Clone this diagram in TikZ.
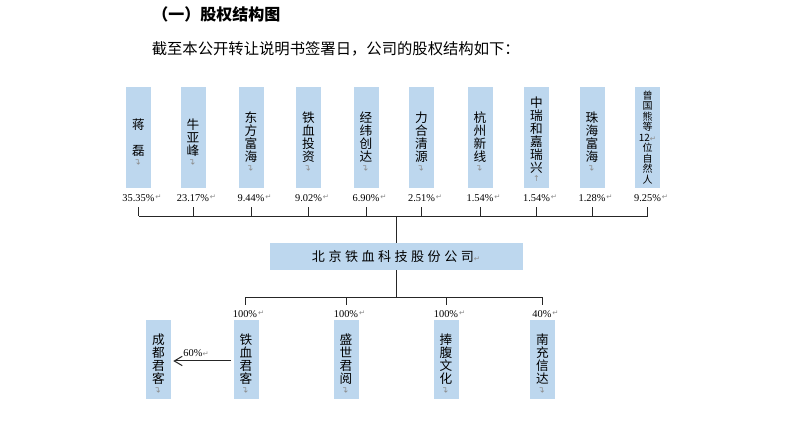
\documentclass[tikz,border=0pt]{standalone}
\usepackage{fontspec}
\usepackage{graphicx}
\setmainfont{Noto Sans CJK SC}
\newfontfamily\boxfont{Noto Sans CJK SC}
\newfontfamily\dvfont{DejaVu Sans}
\newfontfamily\pctfont{Liberation Serif}
\usetikzlibrary{arrows.meta}
\definecolor{boxblue}{HTML}{BDD7EE}
\definecolor{markgray}{HTML}{8C8C8C}
\definecolor{linegray}{HTML}{262626}
\newcommand\hmark{{\dvfont\fontsize{5.5}{5.5}\selectfont\color{markgray}↵}}
\newcommand\vmark{{\dvfont\fontsize{6.5}{6.5}\selectfont\color{markgray}\rotatebox{90}{↵}}}
\newcommand\upmark{{\dvfont\fontsize{6}{6}\selectfont\color{markgray}↑}}
\newcommand\lsp{\hspace{2.6pt}}
\begin{document}
\begin{tikzpicture}[x=0.75pt,y=-0.75pt,
  vbox/.style={draw=none,fill=boxblue,minimum width=18.75pt,minimum height=75.75pt,inner sep=0pt},
  sbox/.style={vbox,minimum height=59.25pt},
  vtext/.style={align=center,inner sep=0pt,font=\boxfont\fontsize{9.5}{9.75}\selectfont},
  ttext/.style={align=center,inner sep=0pt,font=\boxfont\fontsize{7.5}{7.9}\selectfont},
  mk/.style={inner sep=0pt,anchor=north},
  pct/.style={inner xsep=0pt,inner ysep=4pt,font=\pctfont\fontsize{7.8}{9}\selectfont,
    label={[inner sep=0pt,xshift=0.3pt,yshift=0.8pt]right:\hmark}},
  conn/.style={draw=linegray,line width=0.75pt},
  mainbox/.style={fill=boxblue,minimum width=189.75pt,minimum height=20.25pt,inner sep=0pt,
    font=\boxfont\fontsize{9.8}{10}\selectfont}
]
\fill[white] (0,0) rectangle (790,422);
\useasboundingbox (0,0) rectangle (790,422);

% heading and intro
\node[anchor=west,inner sep=0pt,font=\bfseries\fontsize{12}{14}\selectfont] (title) at (152,14) {（一）股权结构图};
\node[anchor=west,inner sep=0pt,font=\fontsize{11.5}{14}\selectfont] (intro) at (151.5,48.5) {截至本公开转让说明书签署日，公司的股权结构如下：};

% shareholders
\node[vbox] (b1) at (138.5,137.5) {};
\node[vtext] (t1) at (b1) {蒋\\\mbox{}\\磊};
\node[mk] (m1) at ([yshift=-1pt]t1.south) {\vmark};
\node[vbox] (b2) at (193,137.5) {};
\node[vtext] (t2) at (b2) {牛\\亚\\峰};
\node[mk] (m2) at ([yshift=-1pt]t2.south) {\vmark};
\node[vbox] (b3) at (251,137.5) {};
\node[vtext] (t3) at (b3) {东\\方\\富\\海};
\node[mk] (m3) at ([yshift=-1pt]t3.south) {\vmark};
\node[vbox] (b4) at (308.5,137.5) {};
\node[vtext] (t4) at (b4) {铁\\血\\投\\资};
\node[mk] (m4) at ([yshift=-1pt]t4.south) {\vmark};
\node[vbox] (b5) at (366,137.5) {};
\node[vtext] (t5) at (b5) {经\\纬\\创\\达};
\node[mk] (m5) at ([yshift=-1pt]t5.south) {\vmark};
\node[vbox] (b6) at (421.5,137.5) {};
\node[vtext] (t6) at (b6) {力\\合\\清\\源};
\node[mk] (m6) at ([yshift=-1pt]t6.south) {\vmark};
\node[vbox] (b7) at (480,137.5) {};
\node[vtext] (t7) at (b7) {杭\\州\\新\\线};
\node[mk] (m7) at ([yshift=-1pt]t7.south) {\vmark};
\node[vbox] (b8) at (536.5,137.5) {};
\node[vtext] (t8) at (536.5,135) {中\\瑞\\和\\嘉\\瑞\\兴};
\node[mk] (m8) at ([yshift=-1pt]t8.south) {\upmark};
\node[vbox] (b9) at (592,137.5) {};
\node[vtext] (t9) at (b9) {珠\\海\\富\\海};
\node[mk] (m9) at ([yshift=-1pt]t9.south) {\vmark};
\node[vbox] (b10) at (647.5,137.5) {};
\node[ttext] (t10) at (b10) {曾\\国\\熊\\等\\12{\hmark}\\位\\自\\然\\人};

% percentages
\node[pct] (p1) at (138.5,198) {35.35\%};
\node[pct] (p2) at (193,198) {23.17\%};
\node[pct] (p3) at (251,198) {9.44\%};
\node[pct] (p4) at (308.5,198) {9.02\%};
\node[pct] (p5) at (366,198) {6.90\%};
\node[pct] (p6) at (421.5,198) {2.51\%};
\node[pct] (p7) at (480,198) {1.54\%};
\node[pct] (p8) at (536.5,198) {1.54\%};
\node[pct] (p9) at (592,198) {1.28\%};
\node[pct] (p10) at (647.5,198) {9.25\%};

% company
\node[mainbox] (main) at (396,256.5) {北\lsp 京\lsp 铁\lsp 血\lsp 科\lsp 技\lsp 股\lsp 份\lsp 公\lsp 司\hmark};

\coordinate (jt) at (396,216);
\foreach \i in {1,...,10} {\draw[conn] (p\i.south) -- (p\i.south |- jt);}
\draw[conn] (p1.south |- jt) -- (p10.south |- jt);
\draw[conn] (jt) -- (main.north);

% subsidiaries
\node[sbox] (c0) at (158.5,359.5) {};
\node[vtext] (u0) at (c0) {成\\都\\君\\客};
\node[mk] (n0) at ([yshift=-1pt]u0.south) {\vmark};
\node[sbox] (c1) at (246,359.5) {};
\node[vtext] (u1) at (c1) {铁\\血\\君\\客};
\node[mk] (n1) at ([yshift=-1pt]u1.south) {\vmark};
\node[sbox] (c2) at (346,359.5) {};
\node[vtext] (u2) at (c2) {盛\\世\\君\\阅};
\node[mk] (n2) at ([yshift=-1pt]u2.south) {\vmark};
\node[sbox] (c3) at (446,359.5) {};
\node[vtext] (u3) at (c3) {捧\\腹\\文\\化};
\node[mk] (n3) at ([yshift=-1pt]u3.south) {\vmark};
\node[sbox] (c4) at (542.5,359.5) {};
\node[vtext] (u4) at (c4) {南\\充\\信\\达};
\node[mk] (n4) at ([yshift=-1pt]u4.south) {\vmark};

\node[pct] (q1) at (245,314) {100\%};
\node[pct] (q2) at (346,314) {100\%};
\node[pct] (q3) at (446,314) {100\%};
\node[pct] (q4) at (542,314) {40\%};

\coordinate (jb) at (396,297);
\draw[conn] (main.south) -- (jb);
\draw[conn] (q1.north |- jb) -- (q4.north |- jb);
\foreach \i in {1,...,4} {\draw[conn] (q\i.north |- jb) -- (q\i.north);}

\draw[conn,-{Straight Barb[length=6pt,width=7pt]},shorten <=1.5pt,shorten >=1.5pt]
  ([yshift=-1.1pt]c1.west) -- node[pos=0.6,above=3pt,inner sep=0pt,font=\pctfont\fontsize{7.8}{9}\selectfont] (pa) {60\%\hmark} ([yshift=-1.1pt]c0.east);
\end{tikzpicture}
\end{document}
